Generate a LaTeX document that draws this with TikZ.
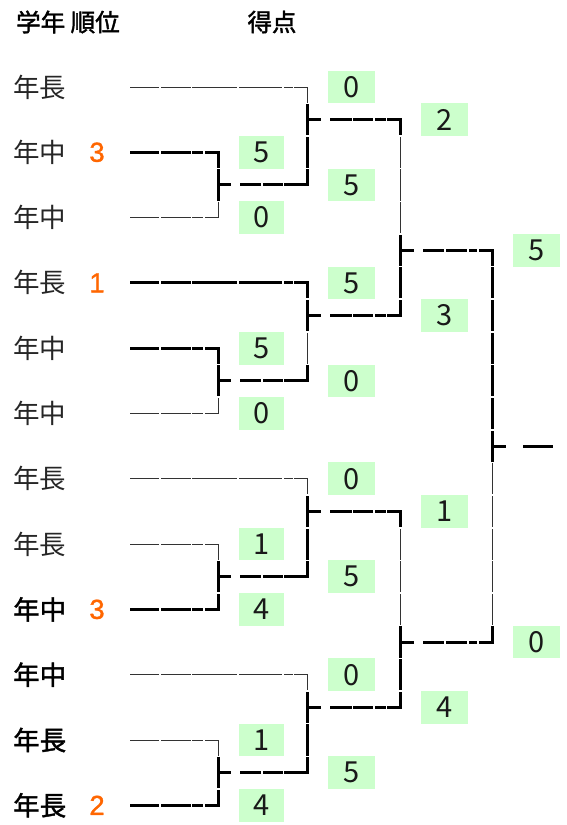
\documentclass[tikz,border=0pt]{standalone}
\usepackage{fontspec}
\setmainfont{Liberation Sans}
\newfontfamily\jp{Noto Sans CJK JP}
\newfontfamily\jpb[FakeBold=1.6]{Noto Sans CJK JP}
\newfontfamily\jph[FakeBold=1.6]{Noto Sans CJK JP}
\newfontfamily\ranksansfont[FakeBold=1.2]{Liberation Sans}
\usetikzlibrary{calc}
\definecolor{boxgreen}{HTML}{CCFFCC}
\definecolor{rankorange}{HTML}{FF6600}
\begin{document}
\begin{tikzpicture}[x=1pt,y=-1pt,
  declare function={yk(\k)=87+32.65*\k;},
  thinln/.style={line width=1pt, draw=black!80, line join=miter},
  thickln/.style={line width=3pt, draw=black, line join=miter},
  gapln/.style={line width=1.5pt, draw=white},
  scorebox/.style={fill=boxgreen, inner sep=0pt, minimum height=32.65pt, font=\jp\fontsize{29}{32}\selectfont, text=black!90},
  namelt/.style={anchor=west, inner sep=0pt, font=\jp\fontsize{26.5}{30}\selectfont, text=black!85},
  namebd/.style={anchor=west, inner sep=0pt, font=\jpb\fontsize{26.5}{30}\selectfont, text=black},
  ranksans/.style={inner sep=0pt, font=\ranksansfont\fontsize{27.5}{30}\selectfont, text=rankorange},
  header/.style={inner sep=0pt, font=\jph\fontsize{24.5}{28}\selectfont, text=black}
]
\useasboundingbox (0,0) rectangle (566,825);
\fill[white] (0,0) rectangle (566,825);

% headers
\node[header, anchor=west] (h1) at (16,22) {学年 順位};
\node[header] (h2) at (272,22) {得点};

% names
\foreach \i/\k/\t in {1/0/年長,2/2/年中,3/4/年中,4/6/年長,5/8/年中,6/10/年中,7/12/年長,8/14/年長}
  \node[namelt] (n\i) at (13,{yk(\k)}) {\t};
\foreach \i/\k/\t in {9/16/年中,10/18/年中,11/20/年長,12/22/年長}
  \node[namebd] (n\i) at (13,{yk(\k)}) {\t};

% ranks
\node[ranksans] (r2) at (97,{yk(2)}) {3};
\node[ranksans] (r4) at (97,{yk(6)}) {1};
\node[ranksans] (r9) at (97,{yk(16)}) {3};
\node[ranksans] (r12) at (97,{yk(22)}) {2};

% score boxes
\foreach \k/\v [count=\c] in {2/5,4/0,8/5,10/0,14/1,16/4,20/1,22/4}
  \node[scorebox, minimum width=45pt] (a\c) at (261.5,{yk(\k)}) {\v};
\foreach \k/\v [count=\c] in {0/0,3/5,6/5,9/0,12/0,15/5,18/0,21/5}
  \node[scorebox, minimum width=47pt] (b\c) at (351.5,{yk(\k)}) {\v};
\foreach \k/\v [count=\c] in {1/2,7/3,13/1,19/4}
  \node[scorebox, minimum width=47pt] (c\c) at (444.5,{yk(\k)}) {\v};
\foreach \k/\v [count=\c] in {5/5,17/0}
  \node[scorebox, minimum width=47pt] (d\c) at (536.5,{yk(\k)}) {\v};

% coordinates
\foreach \i/\k in {1/0,2/2,3/4,4/6,5/8,6/10,7/12,8/14,9/16,10/18,11/20,12/22}
  \coordinate (s\i) at (130,{yk(\k)});
\coordinate (jA) at (218,{yk(3)});
\coordinate (jB) at (307,{yk(1)});
\coordinate (jC2) at (218,{yk(9)});
\coordinate (jC) at (307,{yk(7)});
\coordinate (jD) at (400,{yk(5)});
\coordinate (jE2) at (218,{yk(15)});
\coordinate (jE) at (307,{yk(13)});
\coordinate (jF2) at (218,{yk(21)});
\coordinate (jF) at (307,{yk(19)});
\coordinate (jG) at (400,{yk(17)});
\coordinate (jW) at (492,{yk(11)});
\coordinate (fin) at (553,{yk(11)});

% Match A / B
\draw[thickln] (s2) -- (jA |- s2) -- ($(jA)+(0,16.33)$);
\draw[thinln] (s3) -- (jA |- s3) -- ($(jA)+(0,16.33)$);
\draw[thickln] (jA) -- ++(13,0);
\draw[thickln] ($(jA)+(22,0)$) -- (jB |- jA) -- ($(jB)+(0,-16.33)$);
\draw[thinln] (s1) -- (jB |- s1) -- ($(jB)+(0,-16.33)$);
\draw[thickln] (jB) -- ++(14,0);
\draw[thickln] ($(jB)+(23,0)$) -- (jD |- jB) -- ($(jD |- jB)+(0,16.33)$);
\draw[thinln] ($(jD |- jB)+(0,16.33)$) -- ($(jD)+(0,-16.33)$);
% Match C
\draw[thickln] (s4) -- (jC |- s4) -- ($(jC)+(0,16.33)$);
\draw[thickln] (s5) -- (jC2 |- s5) -- ($(jC2)+(0,16.33)$);
\draw[thinln] (s6) -- (jC2 |- s6) -- ($(jC2)+(0,16.33)$);
\draw[thickln] (jC2) -- ++(13,0);
\draw[thickln] ($(jC2)+(22,0)$) -- (jC |- jC2) -- ($(jC |- jC2)+(0,-16.33)$);
\draw[thinln] ($(jC |- jC2)+(0,-16.33)$) -- ($(jC)+(0,16.33)$);
\draw[thickln] (jC) -- ++(14,0);
\draw[thickln] ($(jC)+(23,0)$) -- (jD |- jC) -- ($(jD)+(0,-16.33)$);
% Match D
\draw[thickln] (jD) -- ++(14,0);
\draw[thickln] ($(jD)+(23,0)$) -- (jW |- jD) -- ($(jW)+(0,16.33)$);
% Final
\draw[thickln] (jW) -- ++(14,0);
\draw[thickln] ($(jW)+(31,0)$) -- (fin);
% Match E
\draw[thinln] (s7) -- (jE |- s7) -- ($(jE)+(0,-16.33)$);
\draw[thinln] (s8) -- (jE2 |- s8) -- ($(jE2)+(0,-16.33)$);
\draw[thickln] (s9) -- (jE2 |- s9) -- ($(jE2)+(0,-16.33)$);
\draw[thickln] (jE2) -- ++(13,0);
\draw[thickln] ($(jE2)+(22,0)$) -- (jE |- jE2) -- ($(jE)+(0,-16.33)$);
\draw[thickln] (jE) -- ++(14,0);
\draw[thickln] ($(jE)+(23,0)$) -- (jG |- jE) -- ($(jG |- jE)+(0,16.33)$);
\draw[thinln] ($(jG |- jE)+(0,16.33)$) -- ($(jG)+(0,-16.33)$);
% Match F
\draw[thinln] (s10) -- (jF |- s10) -- ($(jF)+(0,-16.33)$);
\draw[thinln] (s11) -- (jF2 |- s11) -- ($(jF2)+(0,-16.33)$);
\draw[thickln] (s12) -- (jF2 |- s12) -- ($(jF2)+(0,-16.33)$);
\draw[thickln] (jF2) -- ++(13,0);
\draw[thickln] ($(jF2)+(22,0)$) -- (jF |- jF2) -- ($(jF)+(0,-16.33)$);
\draw[thickln] (jF) -- ++(14,0);
\draw[thickln] ($(jF)+(23,0)$) -- (jG |- jF) -- ($(jG)+(0,-16.33)$);
% Match G
\draw[thickln] (jG) -- ++(14,0);
\draw[thickln] ($(jG)+(23,0)$) -- (jW |- jG) -- ($(jW |- jG)+(0,-16.33)$);
\draw[thinln] ($(jW |- jG)+(0,-16.33)$) -- ($(jW)+(0,16.33)$);

% cell-boundary gaps on vertical lines
\foreach \x in {218,307,400,492}
  \foreach \k in {0.5,1.5,...,21.5}
    \draw[gapln] ({\x-5},{yk(\k)}) -- ({\x+5},{yk(\k)});
% cell-boundary gaps on horizontal lines
\foreach \k in {2,4,8,10,14,16,20,22}
  \foreach \x in {160,191.5,204}
    \draw[gapln] (\x,{yk(\k)-2.5}) -- (\x,{yk(\k)+2.5});
\foreach \k in {0,6,12,18}
  \foreach \x in {160,191.5,238,283,293.5}
    \draw[gapln] (\x,{yk(\k)-2.5}) -- (\x,{yk(\k)+2.5});
\foreach \k in {3,9,15,21}
  \foreach \x in {262,283.5}
    \draw[gapln] (\x,{yk(\k)-2.5}) -- (\x,{yk(\k)+2.5});
\foreach \k in {1,7,13,19}
  \foreach \x in {352.5,374,386.5}
    \draw[gapln] (\x,{yk(\k)-2.5}) -- (\x,{yk(\k)+2.5});
\foreach \k in {5,17}
  \foreach \x in {445,468,478}
    \draw[gapln] (\x,{yk(\k)-2.5}) -- (\x,{yk(\k)+2.5});
\end{tikzpicture}
\end{document}
